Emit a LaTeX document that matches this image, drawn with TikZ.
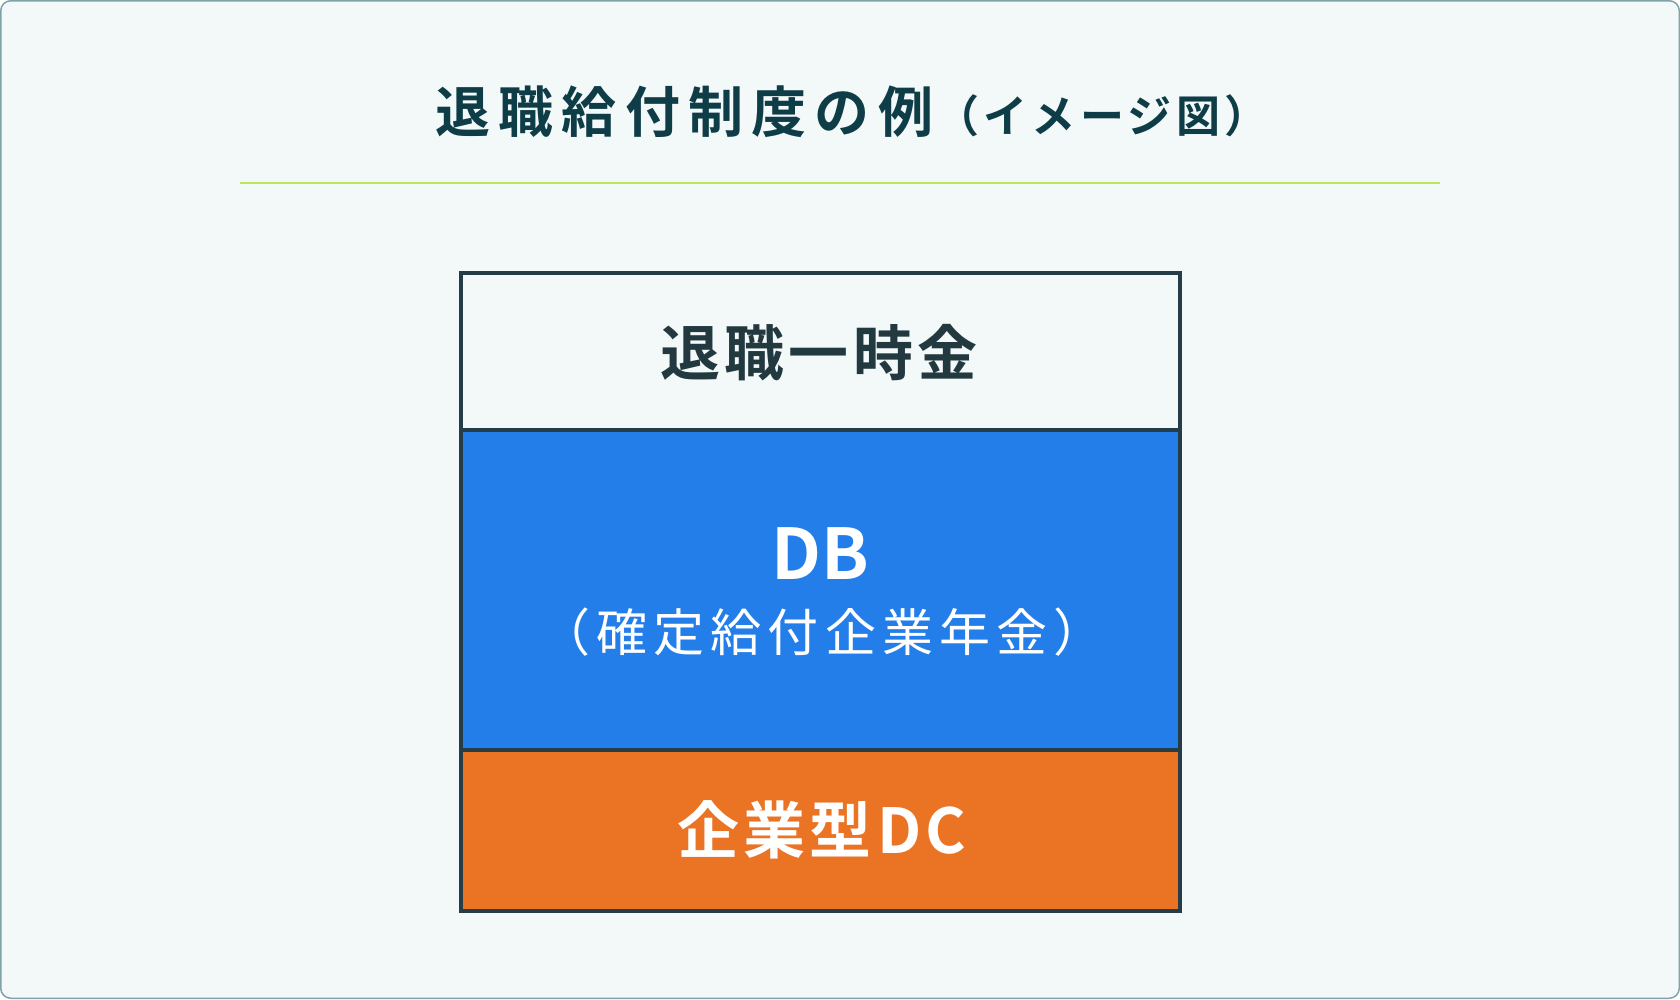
\documentclass[tikz,border=0pt]{standalone}
\usepackage{fontspec}
\setmainfont{Noto Sans CJK JP}
\newfontfamily\jpb[LetterSpace=15]{Noto Sans CJK JP Bold}
\newfontfamily\jpbs[LetterSpace=10]{Noto Sans CJK JP Bold}
\newfontfamily\jpbox[LetterSpace=7]{Noto Sans CJK JP Bold}
\newfontfamily\jpdc[LetterSpace=6]{Noto Sans CJK JP Bold}
\newfontfamily\jpreg[LetterSpace=12]{Noto Sans CJK JP}
\newfontfamily\jpdb{Noto Sans CJK JP Bold}
\definecolor{bgc}{HTML}{F3F8F9}
\definecolor{framec}{HTML}{7FA3A8}
\definecolor{titlec}{HTML}{0E3D47}
\definecolor{rulec}{HTML}{B6EC5C}
\definecolor{edgec}{HTML}{263D48}
\definecolor{bluec}{HTML}{237EEA}
\definecolor{orangec}{HTML}{EB7324}
\definecolor{darktext}{HTML}{22393F}
\tikzset{
  layer/.style={draw=edgec, line width=3.5pt, minimum width=719pt, inner sep=0pt, outer sep=0pt},
  txt/.style={inner sep=0pt, anchor=center}
}
\begin{document}
\begin{tikzpicture}[x=1pt,y=-1pt]
\useasboundingbox (0,0) rectangle (1680,999);
\draw[fill=bgc, draw=framec, line width=1.5pt, rounded corners=10pt] (0.75,0.75) rectangle (1679.25,998.25);
% title
\node[txt, text=titlec] (title) at (852,112) {{\fontsize{55}{62}\jpb 退職給付制度の例}\hspace{2pt}{\fontsize{44}{50}\jpbs （イメージ図）}};
\coordinate (ruleL) at (240,183);
\coordinate (ruleR) at (1440,183);
\draw[rulec, line width=2.5pt] (ruleL) -- (ruleR);
% layers
\node[layer, fill=bgc, minimum height=157pt] (lump) at (820.5,351.5) {};
\node[layer, fill=bluec, minimum height=320pt] (db) at (820.5,590) {};
\node[layer, fill=orangec, minimum height=161pt] (dc) at (820.5,830.5) {};
% texts
\node[txt, text=darktext] (lumpt) at (819,353) {\fontsize{60}{66}\jpbox 退職一時金};
\node[txt, text=white] (dbt) at (820,554) {\fontsize{70}{76}\jpdb DB};
\node[txt, text=white] (dbs) at (822,632) {\fontsize{51}{57}\jpreg （確定給付企業年金）};
\node[txt, text=white] (dct) at (822,830) {\fontsize{62}{68}\jpdc 企業型\hspace{6pt}DC};
\end{tikzpicture}
\end{document}
